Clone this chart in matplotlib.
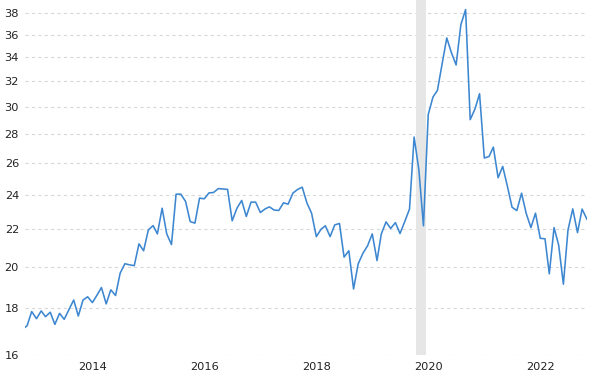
import matplotlib

matplotlib.use("Agg")
import matplotlib.dates as mdates
import matplotlib.pyplot as plt
import pandas as pd
from matplotlib.ticker import FixedLocator, NullLocator

start_month = "2012-10-01"
values = [
    17.07, 17.23, 17.86, 17.54, 17.89, 17.63, 17.83, 17.29, 17.78, 17.51,
    17.95, 18.39, 17.66, 18.39, 18.54, 18.27, 18.63, 18.98, 18.21, 18.87,
    18.60, 19.68, 20.16, 20.10, 20.06, 21.20, 20.83, 21.96, 22.20, 21.74,
    23.20, 21.74, 21.16, 24.04, 24.04, 23.60, 22.43, 22.34, 23.80, 23.76,
    24.12, 24.14, 24.38, 24.36, 24.33, 22.47, 23.20, 23.66, 22.72, 23.56,
    23.56, 22.95, 23.16, 23.28, 23.09, 23.07, 23.52, 23.44, 24.10, 24.33,
    24.47, 23.50, 22.91, 21.59, 22.00, 22.19, 21.59, 22.24, 22.32, 20.50,
    20.83, 18.91, 20.15, 20.70, 21.09, 21.74, 20.32, 21.74, 22.41, 22.04,
    22.37, 21.76, 22.43, 23.15, 27.78, 25.57, 22.19, 29.40, 30.74, 31.26,
    33.45, 35.70, 34.37, 33.34, 36.92, 38.36, 29.03, 29.82, 31.00, 26.34,
    26.45, 27.08, 25.06, 25.79, 24.51, 23.26, 23.06, 24.10, 22.91, 22.09,
    22.91, 21.50, 21.47, 19.65, 22.09, 21.14, 19.14, 21.96, 23.16, 21.81,
    23.15, 22.57,
]
dates = pd.date_range(start_month, periods=len(values), freq="MS")

band_start = pd.Timestamp("2019-10-15")
band_end = pd.Timestamp("2019-12-15")

y_ticks = [16, 18, 20, 22, 24, 26, 28, 30, 32, 34, 36, 38]
x_tick_years = [2014, 2016, 2018, 2020, 2022]

line_color = "#3d87d1"
text_color = "#222222"

plt.rcParams["font.family"] = ["DejaVu Sans"]
plt.rcParams["lines.scale_dashes"] = False

fig = plt.figure(figsize=(6.0, 3.76), dpi=100)
ax = fig.add_axes([24.5 / 600, 21 / 376, 562.5 / 600, 355 / 376])

ax.axvspan(band_start, band_end, color="#e6e6e6", lw=0, zorder=1)
ax.plot(dates, values, color=line_color, lw=1.15, zorder=3, solid_joinstyle="round")

ax.set_yscale("log")
ax.set_ylim(16, 39.3)
ax.yaxis.set_major_locator(FixedLocator(y_ticks))
ax.yaxis.set_minor_locator(NullLocator())
ax.set_yticklabels([str(t) for t in y_ticks])

ax.set_xlim(dates[0] + pd.Timedelta(days=14), dates[-1] + pd.Timedelta(days=1))
ax.set_xticks([pd.Timestamp(f"{year}-01-01") for year in x_tick_years])
ax.xaxis.set_major_formatter(mdates.DateFormatter("%Y"))

for y in y_ticks:
    ax.axhline(y, color="#d8d8d8", lw=0.8, ls=(0, (2.3, 2.3)), zorder=0)

for spine in ax.spines.values():
    spine.set_visible(False)
ax.tick_params(axis="both", length=0, labelsize=8.2, colors=text_color)
ax.tick_params(axis="y", pad=4)
ax.tick_params(axis="x", pad=5)

fig.savefig("out.png", dpi=100)
